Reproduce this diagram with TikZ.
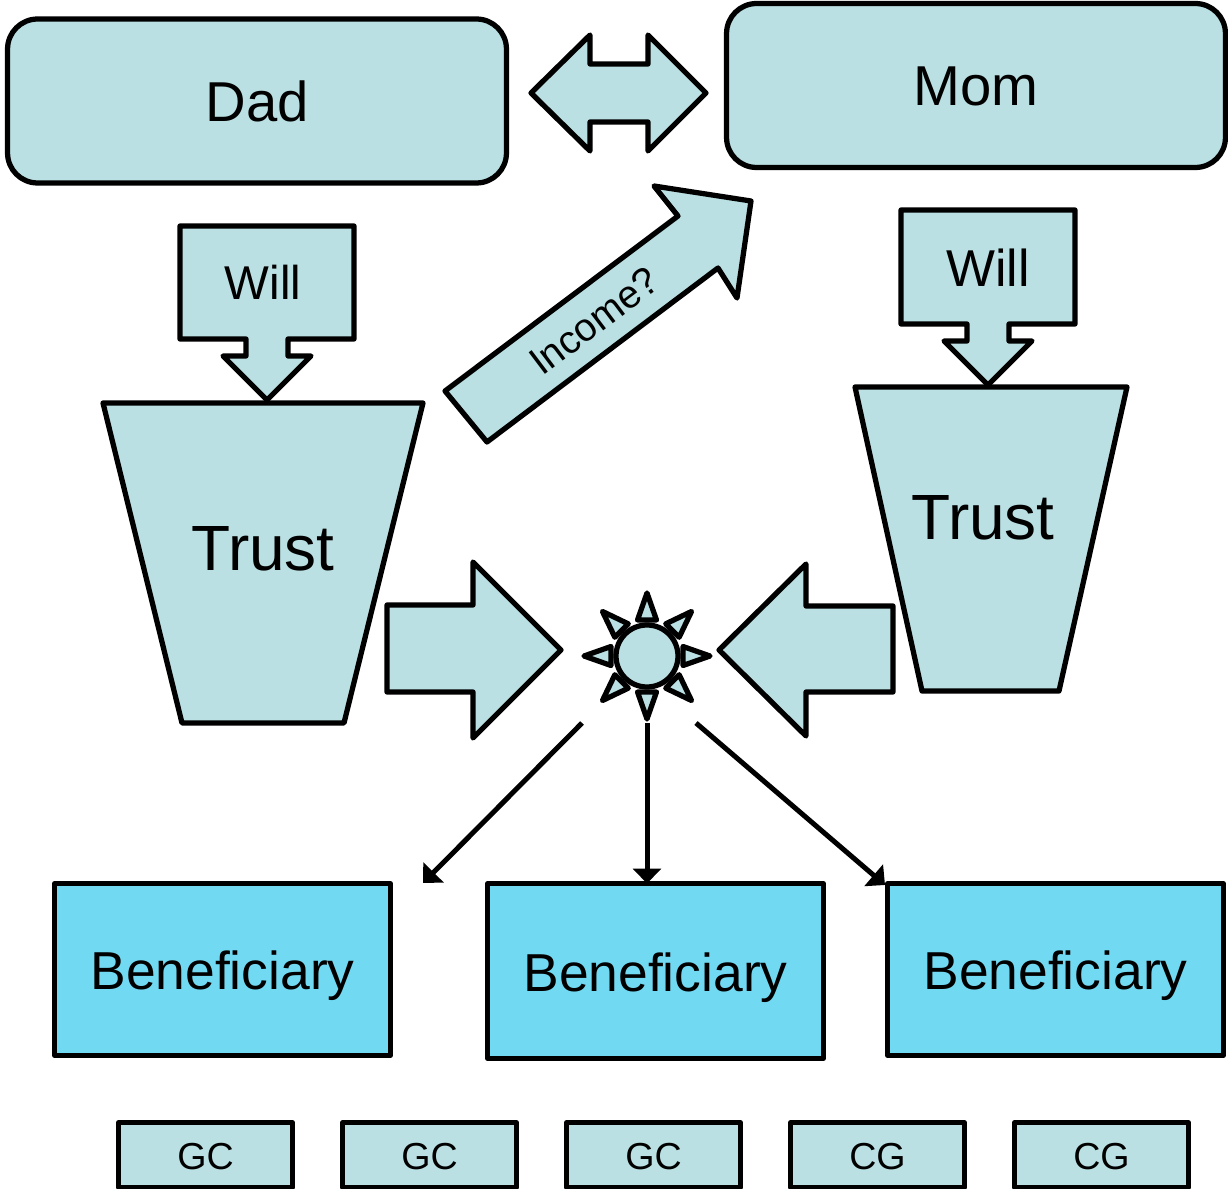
\documentclass[tikz,border=0pt]{standalone}
\usepackage{fontspec}
\setmainfont{Liberation Sans}
\usetikzlibrary{arrows.meta}
\definecolor{paleteal}{HTML}{BAE0E3}
\definecolor{skyfill}{HTML}{72D9F2}
\tikzset{
  outlined/.style={draw=black, line width=0.105cm, line join=round},
  palebox/.style={outlined, fill=paleteal},
  parent/.style={palebox, rounded corners=0.6cm, minimum width=9.98cm, minimum height=3.28cm, text height=23.5pt, font=\fontsize{32}{38}\selectfont},
  heir/.style={outlined, fill=skyfill, outer sep=0pt, minimum width=6.71cm, text depth=0pt, text height=23.3pt, font=\fontsize{30.4}{36}\selectfont},
  child/.style={palebox, minimum width=3.47cm, minimum height=1.3cm, text height=16.4pt, font=\fontsize{21.4}{25}\selectfont},
  label/.style={inner sep=0pt, font=\fontsize{#1}{#1}\selectfont},
  payout/.style={line width=0.1cm, -{Triangle[length=0.3cm,width=0.56cm]}}
}
\begin{document}
\begin{tikzpicture}[x=0.02cm, y=-0.02cm]
  \useasboundingbox (0,0) rectangle (1228,1189);

  \node[parent] (dad) at (257,101) {Dad};
  \node[parent] (mom) at (976,85.5) {Mom};
  \draw[palebox] (531,93) -- (590,35) -- (590,64) -- (648,64) -- (648,35) -- (706,93)
    -- (648,151) -- (648,122) -- (590,122) -- (590,151) -- cycle;

  % wills
  \draw[palebox] (180,226) -- (354,226) -- (354,339) -- (288,339) -- (288,356) -- (311,356)
    -- (267,400) -- (223,356) -- (246,356) -- (246,339) -- (180,339) -- cycle;
  \node[label=27] (willdad) at (263,282) {Will};
  \draw[palebox] (901,210) -- (1075,210) -- (1075,324) -- (1009,324) -- (1009,341) -- (1032,341)
    -- (988,385) -- (944,341) -- (967,341) -- (967,324) -- (901,324) -- cycle;
  \node[label=29.5] (willmom) at (988,268) {Will};

  % trusts
  \draw[palebox] (103,403) -- (423,403) -- (344,723) -- (182,723) -- cycle;
  \node[label=36.4] (trustdad) at (263,549) {Trust};
  \draw[palebox] (855,387) -- (1127,387) -- (1059,691) -- (922,691) -- cycle;
  \node[label=36.4] (trustmom) at (983,518) {Trust};

  \draw[palebox] (445,391) -- (678,216) -- (654,186) -- (751,201) -- (737,298) -- (718,268)
    -- (487,442) -- cycle;
  \node[label=22.3, rotate=37] (income) at (594,321) {Income?};

  \draw[palebox] (387,605) -- (473,605) -- (473,562) -- (561,650) -- (473,738) -- (473,692)
    -- (387,692) -- cycle;
  \draw[palebox] (893,606) -- (806,606) -- (806,564) -- (719,650) -- (806,736) -- (806,692)
    -- (893,692) -- cycle;

  % pool in the middle
  \node[palebox, circle, inner sep=0pt, minimum size=1.24cm] (pool) at (647,656) {};
  \foreach \a in {0,45,...,315}
    \draw[palebox, shift={(pool.center)}, rotate=\a] (36,-9.5) -- (63,0) -- (36,9.5) -- cycle;

  \node[heir, minimum height=3.44cm] (heirl) at (222.5,969.5) {Beneficiary};
  \node[heir, minimum height=3.5cm] (heirm) at (655.5,971) {Beneficiary};
  \node[heir, minimum height=3.44cm] (heirr) at (1055.5,969.5) {Beneficiary};

  \coordinate (outl) at (582,723);
  \coordinate (outm) at (647,723);
  \coordinate (outr) at (696,723);
  \coordinate (inl) at (423,883);
  \coordinate (inr) at (885,885);
  \draw[payout] (outl) -- (inl);
  \draw[payout] (outm) -- (heirm.north-|outm);
  \draw[payout] (outr) -- (inr);

  \node[child] (gca) at (205.5,1155) {GC};
  \node[child] (gcb) at (429.5,1155) {GC};
  \node[child] (gcc) at (653.5,1155) {GC};
  \node[child] (cga) at (877.5,1155) {CG};
  \node[child] (cgb) at (1101.5,1155) {CG};
\end{tikzpicture}
\end{document}
